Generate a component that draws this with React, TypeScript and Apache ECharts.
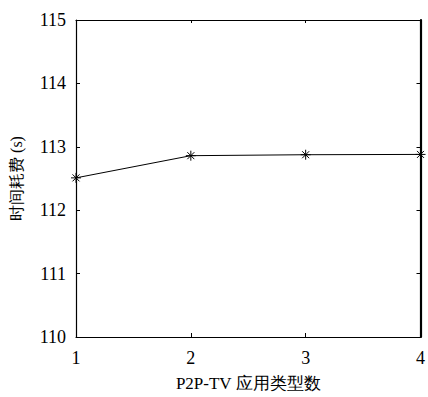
import React, { useEffect, useRef } from "react";
import * as echarts from "echarts";

const categories = [1, 2, 3, 4];
const timeCost = [112.51, 112.86, 112.875, 112.88];
const yTicks = [110, 111, 112, 113, 114, 115];

export default function App() {
  const ref = useRef<HTMLDivElement>(null);
  useEffect(() => {
    if (!ref.current) return;
    const chart = echarts.init(ref.current, undefined, { renderer: "svg" });
    const font = "Liberation Serif";
    const axisLine = { show: true, lineStyle: { color: "#000", width: 1.2 } };
    chart.setOption({
      animation: false,
      backgroundColor: "#fff",
      textStyle: { fontFamily: font },
      grid: { left: 74, right: 3, top: 20, bottom: 59, containLabel: false },
      xAxis: [
        {
          type: "value",
          min: 1,
          max: 4,
          interval: 1,
          position: "bottom",
          axisLine,
          axisTick: { show: true, inside: true, length: 4, lineStyle: { color: "#000" } },
          axisLabel: { color: "#000", fontSize: 18, fontFamily: font, margin: 12 },
          splitLine: { show: false },
          name: "P2P-TV 应用类型数",
          nameLocation: "middle",
          nameGap: 38,
          nameTextStyle: { color: "#000", fontSize: 17, fontFamily: font },
        },
        {
          type: "value",
          min: 1,
          max: 4,
          interval: 1,
          position: "top",
          axisLine,
          axisTick: { show: true, inside: true, length: 3, lineStyle: { color: "#000" } },
          axisLabel: { show: false },
          splitLine: { show: false },
        },
      ],
      yAxis: [
        {
          type: "value",
          min: 110,
          max: 115,
          interval: 1,
          position: "left",
          axisLine,
          axisTick: { show: true, inside: true, length: 4, lineStyle: { color: "#000" } },
          axisLabel: {
            color: "#000",
            fontSize: 18,
            fontFamily: font,
            margin: 10,
            formatter: (v: number) => (yTicks.includes(v) ? String(v) : ""),
          },
          splitLine: { show: false },
          name: "时间耗费 (s)",
          nameLocation: "middle",
          nameGap: 52,
          nameRotate: 90,
          nameTextStyle: { color: "#000", fontSize: 16, fontFamily: font },
        },
        {
          type: "value",
          min: 110,
          max: 115,
          interval: 1,
          position: "right",
          axisLine: { show: true, lineStyle: { color: "#000", width: 2.2 } },
          axisTick: { show: true, inside: true, length: 4, lineStyle: { color: "#000" } },
          axisLabel: { show: false },
          splitLine: { show: false },
        },
      ],
      series: [
        {
          type: "line",
          xAxisIndex: 0,
          yAxisIndex: 0,
          data: categories.map((c, i) => [c, timeCost[i]]),
          symbol:
            "path://M0 5 L10 5 M5 0 L5 10 M1.5 1.5 L8.5 8.5 M1.5 8.5 L8.5 1.5",
          symbolSize: 10,
          showAllSymbol: true,
          clip: false,
          lineStyle: { color: "#000", width: 1 },
          itemStyle: { color: "none", borderColor: "#000", borderWidth: 1 },
        },
      ],
    });
    return () => chart.dispose();
  }, []);
  return <div ref={ref} style={{ width: 428, height: 397, position: "absolute", left: 0, top: 0 }} />;
}
